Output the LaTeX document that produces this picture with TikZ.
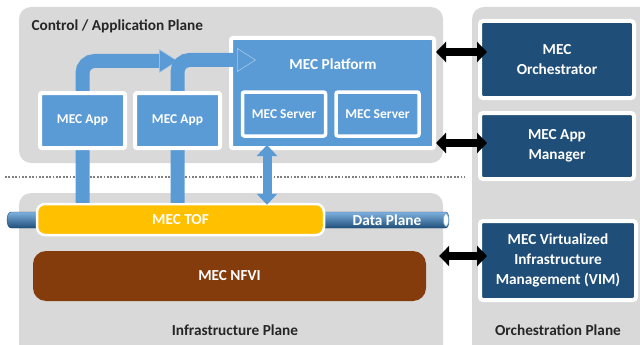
\documentclass[tikz,border=0pt]{standalone}
\usepackage{fontspec}
\setmainfont{Carlito}
\usetikzlibrary{positioning,arrows.meta}

\definecolor{panelgray}{HTML}{D9D9D9}
\definecolor{appblue}{HTML}{5B9BD5}
\definecolor{orchblue}{HTML}{1F4E79}
\definecolor{tofyellow}{HTML}{FFC000}
\definecolor{nfvibrown}{HTML}{843C0C}
\definecolor{pipedark}{HTML}{1F4E79}
\definecolor{pipemid}{HTML}{2E75B6}
\definecolor{pipelight}{HTML}{7FB2E0}

\newcommand{\bigtxt}{\fontsize{15.3}{20}\selectfont\bfseries}
\newcommand{\smalltxt}{\fontsize{13.5}{16}\selectfont\bfseries}

\pgfdeclarelayer{front}
\pgfsetlayers{main,front}

\tikzset{
  panel/.style={fill=panelgray, rounded corners=12pt},
  planetitle/.style={font=\bigtxt, text=black!85},
  appbox/.style={fill=appblue, draw=white, line width=4pt, rounded corners=2pt,
    text=white, font=\smalltxt, minimum width=85pt, minimum height=55pt, inner sep=0pt},
  srvbox/.style={appbox, line width=3.5pt, minimum width=83pt, minimum height=44pt},
  orchbox/.style={fill=orchblue, draw=white, line width=4pt, rounded corners=3pt,
    text=white, font=\bigtxt, align=center, minimum width=154pt, inner sep=0pt},
  flow/.style={draw=appblue, line width=14pt, rounded corners=12pt,
    -{Triangle[length=19pt,width=24pt,fill=appblue,color=white!45!appblue,line width=0.6pt]}},
  updown/.style={draw=appblue, line width=9pt,
    {Triangle[length=11pt,width=20pt]}-{Triangle[length=11pt,width=20pt]}},
  link/.style={draw=black, line width=8pt,
    {Triangle[length=10pt,width=20pt]}-{Triangle[length=10pt,width=20pt]}},
}

\begin{document}
\begin{tikzpicture}[x=1pt, y=-1pt]
\useasboundingbox (0,0) rectangle (640,345);
\clip (0,0) rectangle (640,345);

%% planes
\fill[panel] (19,7) rectangle (443,163);
\fill[panel] (19,193) rectangle (443,360);
\fill[panel] (472,7) rectangle (655,360);
\draw[black!50, line width=1.2pt, dash pattern=on 1.8pt off 1.6pt] (5,177) -- (465,177);

\node[planetitle, anchor=west] (ctltitle) at (28,26) {Control / Application Plane};
\node[planetitle] (infratitle) at (235,330) {Infrastructure Plane};
\node[planetitle] (orchtitle) at (558,330) {Orchestration Plane};

%% data plane pipe
\shadedraw[draw=pipedark, line width=0.4pt, top color=pipelight, middle color=pipemid, bottom color=pipedark]
  (11,212) -- (446,212) arc[start angle=90, end angle=-90, x radius=3pt, y radius=8pt]
  -- (11,228) arc[start angle=270, end angle=90, x radius=4pt, y radius=8pt] -- cycle;
\draw[draw=pipelight, fill=white, line width=0.6pt] (446,220) ellipse[x radius=2.5pt, y radius=6.5pt];
\node[font=\bigtxt, text=white] (dp) at (387,220) {Data Plane};

%% infrastructure
\node[draw=white, line width=2.5pt, fill=tofyellow, rounded corners=8pt, minimum width=287pt,
  minimum height=31pt, text=white, font=\bigtxt] (tof) at (180.5,219.5) {MEC TOF};
\node[fill=nfvibrown, rounded corners=13pt, minimum width=393pt, minimum height=50pt,
  text=white, font=\bigtxt] (nfvi) at (229.5,276) {MEC NFVI};

%% platform and servers
\node[appbox, minimum width=203pt, minimum height=110pt] (plat) at (332.5,93) {};
\node[font=\bigtxt, text=white] (plattxt) at (333,64) {MEC Platform};
\node[srvbox] (srv1) at (284,114) {MEC Server};
\node[srvbox, right=7pt of srv1] (srv2) {MEC Server};

% apps sit on top of the flow bars
\begin{pgfonlayer}{front}
  \node[appbox] (app1) at (82.5,120.5) {MEC App};
  \node[appbox, right=6pt of app1] (app2) {MEC App};
\end{pgfonlayer}

\coordinate (tip1) at (178,61);
\coordinate (tip2) at (256,60);
\coordinate (port) at (267,0);
\draw[flow] (app1 |- tof.north) |- (tip1);
\draw[flow] (app2 |- tof.north) |- (tip2);
\draw[updown] ([yshift=5pt]plat.south -| port) -- ([yshift=-2pt]tof.north -| port);

%% orchestration
\node[orchbox, minimum height=77pt] (orch) at (557,59.5) {MEC\\Orchestrator};
\node[orchbox, minimum height=66pt, below=11pt of orch] (appmgr) {MEC App\\Manager};
\node[orchbox, minimum width=156pt, minimum height=79pt] (vim) at (558,260.5)
  {MEC Virtualized\\Infrastructure\\Management (VIM)};

\draw[link] (plat.east |- 0,52) -- ([xshift=9pt]orch.west |- 0,52);
\draw[link] (plat.east |- 0,143) -- ([xshift=9pt]appmgr.west |- 0,143);
\draw[link] ([xshift=13pt]nfvi.east |- 0,256) -- ([xshift=9pt]vim.west |- 0,256);
\end{tikzpicture}
\end{document}
